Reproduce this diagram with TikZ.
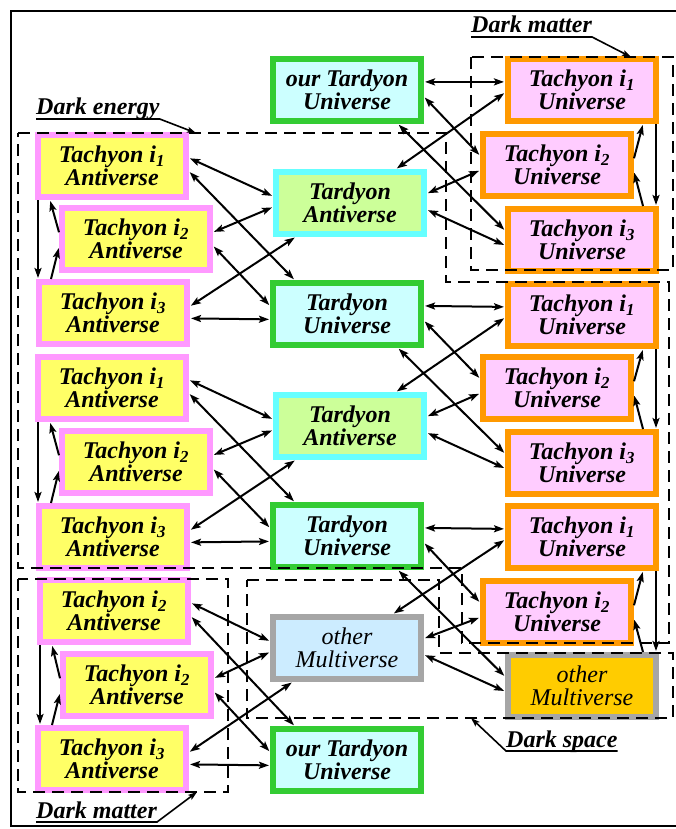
\documentclass[tikz,border=0pt]{standalone}
\usepackage{fontspec}
\setmainfont{Liberation Serif}
\usetikzlibrary{arrows.meta,calc}
\definecolor{antiline}{RGB}{255,153,255}
\definecolor{antifill}{RGB}{255,255,102}
\definecolor{uniline}{RGB}{255,153,0}
\definecolor{unifill}{RGB}{255,204,255}
\definecolor{tardline}{RGB}{51,204,51}
\definecolor{tardfill}{RGB}{204,255,255}
\definecolor{tantiline}{RGB}{102,255,255}
\definecolor{tantifill}{RGB}{204,255,153}
\definecolor{multiline}{RGB}{166,166,166}
\definecolor{multifill}{RGB}{204,236,255}
\definecolor{multigold}{RGB}{255,204,0}

\begin{document}
\begin{tikzpicture}[x=1pt, y=-1pt,
  verse/.style={line width=6pt, minimum width=148pt, minimum height=62pt, inner sep=0pt,
    align=center, font=\fontsize{24}{23}\selectfont\bfseries\itshape},
  tachanti/.style={verse, draw=antiline, fill=antifill},
  tachuni/.style={verse, draw=uniline, fill=unifill},
  tarduni/.style={verse, draw=tardline, fill=tardfill},
  tardanti/.style={verse, draw=tantiline, fill=tantifill},
  othermulti/.style={verse, draw=multiline, fill=multifill, font=\fontsize{24}{23}\selectfont\mdseries\itshape},
  link/.style={line width=2pt, {Stealth[length=10pt,width=7pt,inset=2pt]}-{Stealth[length=10pt,width=7pt,inset=2pt]}, shorten <=1pt, shorten >=1pt},
  onelink/.style={line width=2pt, -{Stealth[length=10pt,width=7pt,inset=2pt]}, shorten >=1pt},
  zone/.style={line width=2pt, dash pattern=on 12pt off 7pt},
  tag/.style={inner sep=0pt, font=\fontsize{24}{24}\selectfont\bfseries\itshape},
  pointer/.style={line width=1.6pt, -{Stealth[length=9pt,width=6pt,inset=2pt]}}]
\useasboundingbox (0,0) rectangle (676,829);
% outer frame (right side runs off the page)
\draw[line width=2pt] (690,11) -- (11,11) -- (11,826) -- (690,826);

% left column: tachyon antiverses
\node[tachanti] (ta1) at (112,166) {Tachyon i\textsubscript{1}\\Antiverse};
\node[tachanti] (ta2) at (136,239) {Tachyon i\textsubscript{2}\\Antiverse};
\node[tachanti] (ta3) at (113,313) {Tachyon i\textsubscript{3}\\Antiverse};
\node[tachanti] (ta4) at (112,388) {Tachyon i\textsubscript{1}\\Antiverse};
\node[tachanti] (ta5) at (136,462) {Tachyon i\textsubscript{2}\\Antiverse};
\node[tachanti] (ta6) at (113,537) {Tachyon i\textsubscript{3}\\Antiverse};
\node[tachanti] (ta7) at (114,611) {Tachyon i\textsubscript{2}\\Antiverse};
\node[tachanti] (ta8) at (137,685) {Tachyon i\textsubscript{2}\\Antiverse};
\node[tachanti] (ta9) at (112,759) {Tachyon i\textsubscript{3}\\Antiverse};

% middle column: tardyon verses
\node[tarduni] (our1) at (347,90) {our Tardyon\\Universe};
\node[tardanti] (tav1) at (350,203) {Tardyon\\Antiverse};
\node[tarduni] (tun1) at (347,314) {Tardyon\\Universe};
\node[tardanti] (tav2) at (350,426) {Tardyon\\Antiverse};
\node[tarduni] (tun2) at (347,536) {Tardyon\\Universe};
\node[othermulti] (om1) at (347,648) {other\\Multiverse};
\node[tarduni] (our2) at (347,760) {our Tardyon\\Universe};

% right column: tachyon universes
\node[tachuni] (tu1) at (582,90) {Tachyon i\textsubscript{1}\\Universe};
\node[tachuni] (tu2) at (557,165) {Tachyon i\textsubscript{2}\\Universe};
\node[tachuni] (tu3) at (582,240) {Tachyon i\textsubscript{3}\\Universe};
\node[tachuni] (tu4) at (582,315) {Tachyon i\textsubscript{1}\\Universe};
\node[tachuni] (tu5) at (557,388) {Tachyon i\textsubscript{2}\\Universe};
\node[tachuni] (tu6) at (582,463) {Tachyon i\textsubscript{3}\\Universe};
\node[tachuni] (tu7) at (582,537) {Tachyon i\textsubscript{1}\\Universe};
\node[tachuni] (tu8) at (557,612) {Tachyon i\textsubscript{2}\\Universe};
\node[othermulti, fill=multigold] (om2) at (582,686) {other\\Multiverse};

% dark zones
\draw[zone] (18,133) -- (446,133) -- (446,282) -- (669,282) -- (669,643) -- (462,643) -- (462,568) -- (18,568) -- cycle;
\draw[zone] (471,57) rectangle (673,270);
\draw[zone] (18,579) rectangle (228,792);
\draw[zone] (247,580) -- (439,580) -- (439,653) -- (673,653) -- (673,718) -- (247,718) -- cycle;

% left block 1
\draw[link] (ta1.6) -- (tav1.175);
\draw[link] (ta1.-4) -- (tun1.147);
\draw[link] (ta2.5) -- (tav1.183);
\draw[link] (ta2.-5) -- (tun1.174);
\draw[link] (ta3.5) -- (tav1.-148);
\draw[link] (ta3.-4) -- (tun1.184);
\draw[onelink] ([xshift=-74pt]ta1.south) -- ([xshift=-75pt]ta3.north);
\draw[onelink] ([xshift=-62pt]ta3.north) -- (ta2.186);
\draw[onelink] (ta2.175) -- ([xshift=-62pt]ta1.south);
% left block 2
\draw[link] (ta4.6) -- (tav2.175);
\draw[link] (ta4.-4) -- (tun2.147);
\draw[link] (ta5.5) -- (tav2.183);
\draw[link] (ta5.-5) -- (tun2.174);
\draw[link] (ta6.5) -- (tav2.-148);
\draw[link] (ta6.-4) -- (tun2.184);
\draw[onelink] ([xshift=-74pt]ta4.south) -- ([xshift=-75pt]ta6.north);
\draw[onelink] ([xshift=-62pt]ta6.north) -- (ta5.186);
\draw[onelink] (ta5.175) -- ([xshift=-62pt]ta4.south);
% left block 3
\draw[link] (ta7.6) -- (om1.175);
\draw[link] (ta7.-4) -- (our2.147);
\draw[link] (ta8.5) -- (om1.183);
\draw[link] (ta8.-5) -- (our2.174);
\draw[link] (ta9.5) -- (om1.-148);
\draw[link] (ta9.-4) -- (our2.184);
\draw[onelink] ([xshift=-74pt]ta7.south) -- ([xshift=-72pt]ta9.north);
\draw[onelink] ([xshift=-60pt]ta9.north) -- (ta8.186);
\draw[onelink] (ta8.175) -- ([xshift=-62pt]ta7.south);

% right block 1
\draw[link] (our1.6) -- (tu1.174);
\draw[link] (our1.-5) -- (tu2.173);
\draw[link] ([xshift=51pt]our1.south) -- (tu3.173);
\draw[link] ([xshift=46pt]tav1.north) -- (tu1.182);
\draw[link] (tav1.7) -- (tu2.184);
\draw[link] (tav1.-5) -- (tu3.184);
\draw[onelink] ([xshift=74pt]tu1.south) -- ([xshift=74pt]tu3.north);
\draw[onelink] ([xshift=61pt]tu3.north) -- (tu2.-5);
\draw[onelink] (tu2.5) -- ([xshift=61pt]tu1.south);
% right block 2
\draw[link] (tun1.6) -- (tu4.174);
\draw[link] (tun1.-5) -- (tu5.173);
\draw[link] ([xshift=51pt]tun1.south) -- (tu6.173);
\draw[link] ([xshift=46pt]tav2.north) -- (tu4.182);
\draw[link] (tav2.7) -- (tu5.184);
\draw[link] (tav2.-5) -- (tu6.184);
\draw[onelink] ([xshift=74pt]tu4.south) -- ([xshift=74pt]tu6.north);
\draw[onelink] ([xshift=61pt]tu6.north) -- (tu5.-5);
\draw[onelink] (tu5.5) -- ([xshift=61pt]tu4.south);
% right block 3
\draw[link] (tun2.6) -- (tu7.174);
\draw[link] (tun2.-5) -- (tu8.173);
\draw[link] ([xshift=51pt]tun2.south) -- (om2.173);
\draw[link] ([xshift=46pt]om1.north) -- (tu7.182);
\draw[link] (om1.7) -- (tu8.184);
\draw[link] (om1.-5) -- (om2.184);
\draw[onelink] ([xshift=74pt]tu7.south) -- ([xshift=74pt]om2.north);
\draw[onelink] ([xshift=61pt]om2.north) -- (tu8.-5);
\draw[onelink] (tu8.5) -- ([xshift=61pt]tu7.south);

% zone labels
\node[tag, anchor=base west] (darkenergy) at (36,115) {Dark energy};
\coordinate (darkenergytip) at (196,133);
\draw[pointer] ($(darkenergy.base west)+(0,4)$) -- ($(darkenergy.base east)+(0,4)$) -- (darkenergytip);
\node[tag, anchor=base west] (darkmatterA) at (471,33) {Dark matter};
\coordinate (darkmatterAtip) at (631,57);
\draw[pointer] ($(darkmatterA.base west)+(0,4)$) -- ($(darkmatterA.base east)+(0,4)$) -- (darkmatterAtip);
\node[tag, anchor=base west] (darkmatterB) at (36,818) {Dark matter};
\coordinate (darkmatterBtip) at (197,792);
\draw[pointer] ($(darkmatterB.base west)+(0,4)$) -- ($(darkmatterB.base east)+(0,4)$) -- (darkmatterBtip);
\node[tag, anchor=base west] (darkspace) at (506,747) {Dark space};
\coordinate (darkspacetip) at (471,718);
\draw[pointer] ($(darkspace.base east)+(0,4)$) -- ($(darkspace.base west)+(0,4)$) -- (darkspacetip);
\end{tikzpicture}
\end{document}
